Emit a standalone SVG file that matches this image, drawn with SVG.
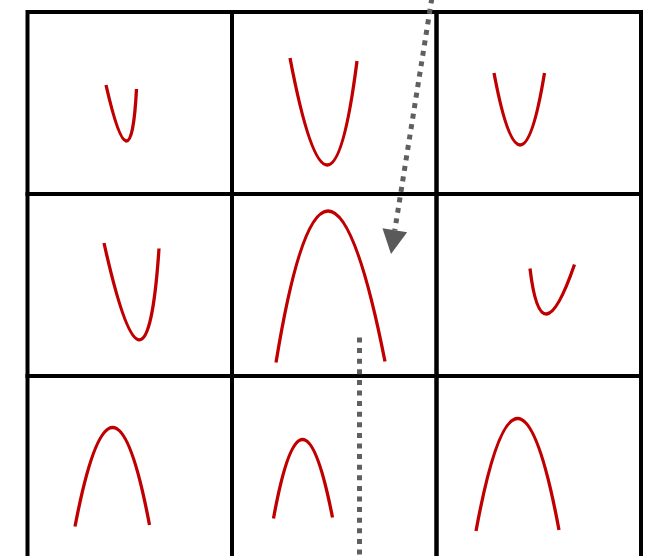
<svg xmlns="http://www.w3.org/2000/svg" width="647" height="556" viewBox="0 0 647 556">
<style>
.cell{fill:none;stroke:#000;stroke-width:4}
.curve{fill:none;stroke:#c00000;stroke-width:3.3;stroke-linecap:butt}
.dot{fill:none;stroke:#5f5f5f;stroke-width:5;stroke-dasharray:5 5.6}
</style>
<defs>
<marker id="ah" markerUnits="userSpaceOnUse" markerWidth="24" markerHeight="25" refX="0" refY="12.5" orient="auto" overflow="visible">
<path d="M0,0 L24,12.5 L0,25 Z" fill="#5a5a5a"/>
</marker>
</defs>
<rect x="0" y="0" width="647" height="556" fill="#fff"/>
<g id="cell-0-0"><rect class="cell" x="27.5" y="12" width="204.5" height="182"/><path class="curve" d="M106,85 Q131,195 136.5,89"/></g>
<g id="cell-0-1"><rect class="cell" x="232" y="12" width="204.5" height="182"/><path class="curve" d="M290,58 Q330.5,270.5 357,61"/></g>
<g id="cell-0-2"><rect class="cell" x="436.5" y="12" width="204.5" height="182"/><path class="curve" d="M494,73 Q521,217 544.5,73"/></g>
<g id="cell-1-0"><rect class="cell" x="27.5" y="194" width="204.5" height="182"/><path class="curve" d="M104,243 Q146.5,434 159,248.5"/></g>
<g id="cell-1-1"><rect class="cell" x="232" y="194" width="204.5" height="182"/><path class="curve" d="M276,362.5 Q325.5,60 385,361.5"/></g>
<g id="cell-1-2"><rect class="cell" x="436.5" y="194" width="204.5" height="182"/><path class="curve" d="M530,268.5 Q541,361.5 574.5,264.5"/></g>
<g id="cell-2-0"><rect class="cell" x="27.5" y="376" width="204.5" height="182"/><path class="curve" d="M75,526.5 Q112.75,329.25 149.5,525"/></g>
<g id="cell-2-1"><rect class="cell" x="232" y="376" width="204.5" height="182"/><path class="curve" d="M273.5,518.5 Q302,361 332.5,517.5"/></g>
<g id="cell-2-2"><rect class="cell" x="436.5" y="376" width="204.5" height="182"/><path class="curve" d="M476,531 Q517.5,306.5 559,530"/></g>
<g id="connectors">
<line class="dot" x1="433.5" y1="-12" x2="394.8" y2="230.3" marker-end="url(#ah)"/>
<line class="dot" x1="359.5" y1="337.5" x2="359.5" y2="560"/>
</g>
</svg>
